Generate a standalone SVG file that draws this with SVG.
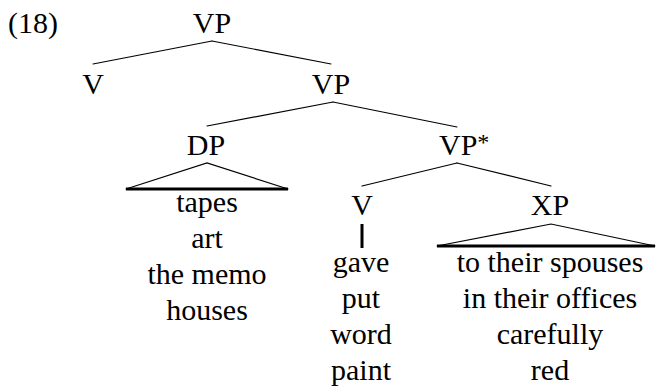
<svg xmlns="http://www.w3.org/2000/svg" width="657" height="388" viewBox="0 0 657 388">
  <style>
    text { font-family: "Liberation Serif", "Times New Roman", serif; font-size: 30px; fill: #000; text-anchor: middle; }
    .edge { stroke: #000; stroke-width: 1.2; fill: none; stroke-linecap: round; }
    .bar { stroke: #000; stroke-width: 3; fill: none; }
  </style>
  <rect width="657" height="388" fill="#fff"/>

  <!-- example number -->
  <text x="8" y="33" style="text-anchor:start">(18)</text>

  <!-- branches, triangles and unary bar -->
  <g id="connectors">
    <line class="edge" x1="212" y1="41" x2="93" y2="64"/>
    <line class="edge" x1="212" y1="41" x2="331" y2="64"/>
    <line class="edge" x1="333" y1="102" x2="207" y2="126"/>
    <line class="edge" x1="333" y1="102" x2="457" y2="127"/>
    <!-- DP triangle -->
    <polyline class="edge" points="126,189 207,163 288,189"/>
    <line class="bar" x1="126" y1="189" x2="288" y2="189"/>
    <line class="edge" x1="457" y1="163" x2="362" y2="186"/>
    <line class="edge" x1="457" y1="163" x2="551" y2="186"/>
    <!-- V to lexical items -->
    <line class="bar" x1="362" y1="224" x2="362" y2="248"/>
    <!-- XP triangle -->
    <polyline class="edge" points="437,246 551,224 655,246"/>
    <line class="bar" x1="437" y1="246" x2="655" y2="246"/>
  </g>

  <g id="vp-root"><text x="212" y="33">VP</text></g>
  <g id="v-head"><text x="93" y="94">V</text></g>
  <g id="vp-mid"><text x="331" y="94">VP</text></g>
  <g id="dp"><text x="206" y="155">DP</text></g>
  <g id="vp-star"><text x="439" y="155" style="text-anchor:start">VP<tspan font-size="24" dy="-5">*</tspan></text></g>
  <g id="v-low"><text x="362" y="215">V</text></g>
  <g id="xp"><text x="550" y="215">XP</text></g>

  <g id="dp-items">
    <text x="207" y="212">tapes</text>
    <text x="207" y="248">art</text>
    <text x="207" y="284">the memo</text>
    <text x="207" y="320">houses</text>
  </g>
  <g id="v-items">
    <text x="361" y="272">gave</text>
    <text x="361" y="308">put</text>
    <text x="361" y="344">word</text>
    <text x="361" y="380">paint</text>
  </g>
  <g id="xp-items">
    <text x="550" y="272">to their spouses</text>
    <text x="550" y="308">in their offices</text>
    <text x="550" y="344">carefully</text>
    <text x="550" y="380">red</text>
  </g>
</svg>
